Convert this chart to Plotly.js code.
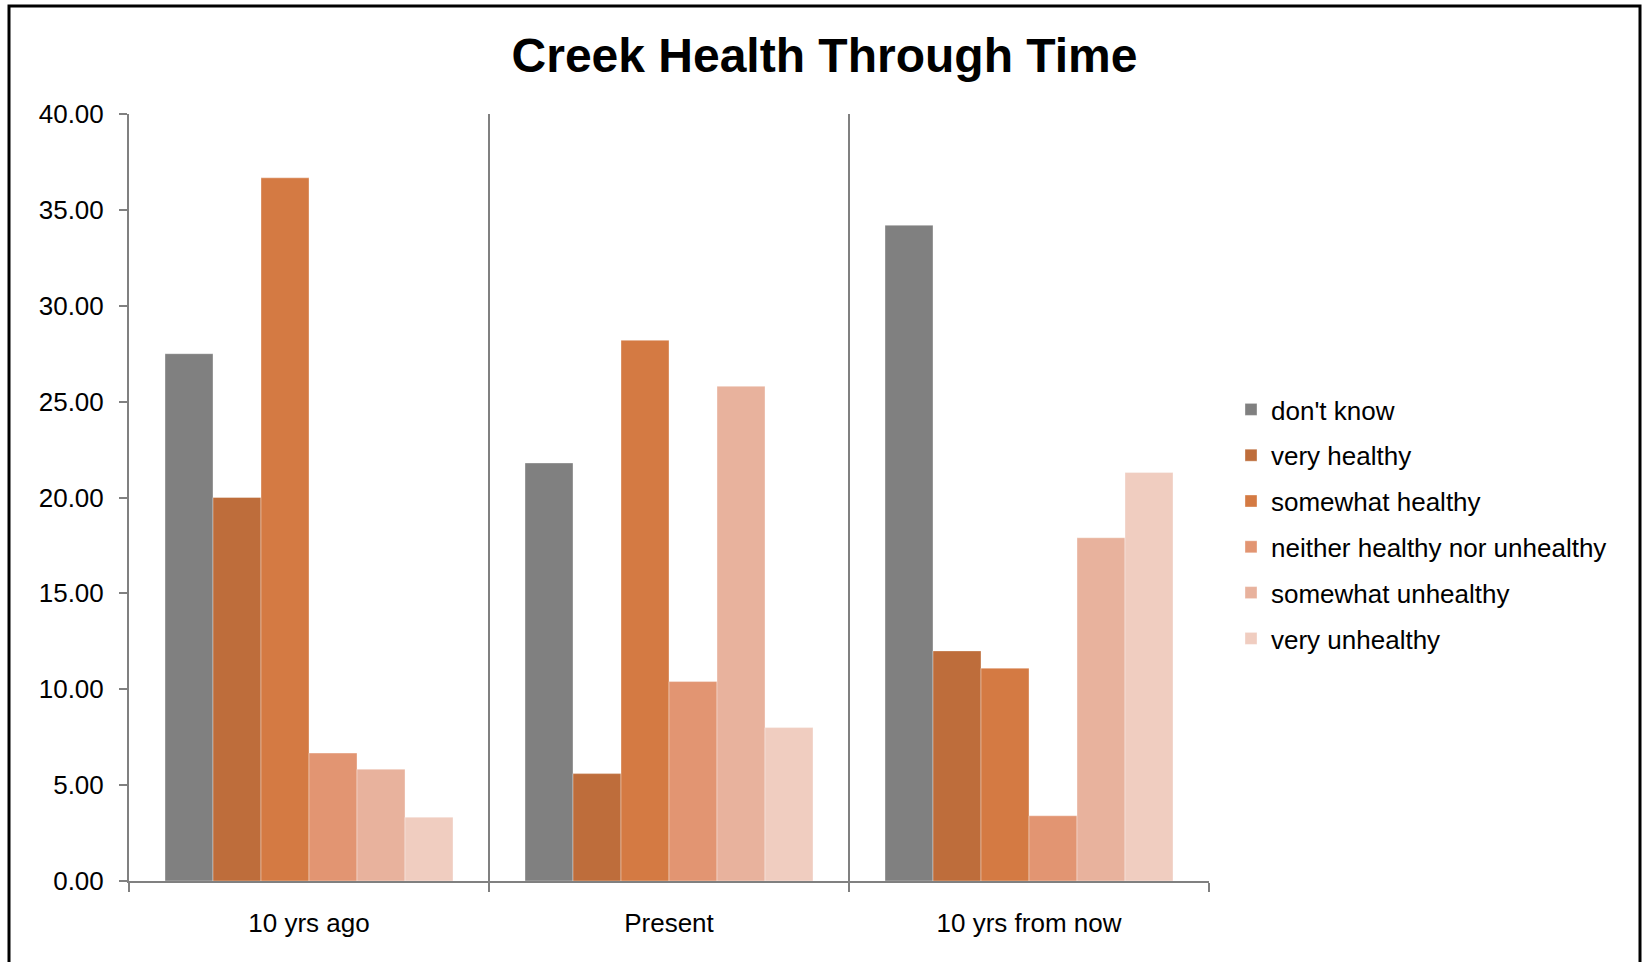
<!DOCTYPE html>
<html>
<head>
<meta charset="utf-8">
<script src="https://cdn.plot.ly/plotly-3.0.1.min.js"></script>
<style>
html,body{margin:0;padding:0;background:#fff;}
#chart{width:1649px;height:962px;}
</style>
</head>
<body>
<div id="chart"></div>
<script>
const categories = ["10 yrs ago", "Present", "10 yrs from now"];
const seriesNames = ["don't know", "very healthy", "somewhat healthy", "neither healthy nor unhealthy", "somewhat unhealthy", "very unhealthy"];
const dontKnow = [27.50, 21.80, 34.20];
const veryHealthy = [20.00, 5.60, 12.00];
const somewhatHealthy = [36.67, 28.20, 11.10];
const neither = [6.67, 10.40, 3.40];
const somewhatUnhealthy = [5.83, 25.80, 17.90];
const veryUnhealthy = [3.33, 8.00, 21.30];
const colors = ["#808080", "#BE6D3B", "#D47A43", "#E29572", "#E8B29D", "#F0CDC0"];
const yTickVals = [0, 5, 10, 15, 20, 25, 30, 35, 40];

const seriesValues = [dontKnow, veryHealthy, somewhatHealthy, neither, somewhatUnhealthy, veryUnhealthy];
const FONT = "Liberation Sans, Arial, sans-serif";

const traces = seriesValues.map((vals, i) => ({
  type: "bar",
  name: seriesNames[i],
  x: categories,
  y: vals,
  legendgroup: "g" + i,
  marker: {color: colors[i], line: {color: "rgba(255,255,255,0.35)", width: 1}},
  hoverinfo: "x+y+name"
}));

const L = 129, R = 440, T = 114, B = 81;
const PW = 1649 - L - R, PH = 962 - T - B;
function px(x){ return (x - L) / PW; }
function py(y){ return (962 - B - y) / PH; }

const layout = {
  width: 1649, height: 962,
  margin: {l: L, r: R, t: T, b: B, pad: 0},
  paper_bgcolor: "#ffffff",
  plot_bgcolor: "#ffffff",
  font: {family: FONT, size: 26, color: "#000000"},
  title: {
    text: "<b>Creek Health Through Time</b>",
    font: {family: FONT, size: 48, color: "#000000"},
    x: 0.5, xref: "container", xanchor: "center",
    y: 1 - 55/962, yref: "container", yanchor: "middle"
  },
  barmode: "group",
  bargap: 0.2,
  bargroupgap: 0,
  showlegend: true,
  legend: {
    x: px(1231), xanchor: "left",
    y: py(386), yanchor: "top",
    font: {family: FONT, size: 26, color: "#000000"},
    tracegroupgap: 9,
    bgcolor: "rgba(0,0,0,0)",
    borderwidth: 0
  },
  xaxis: {
    type: "category",
    showline: true, linecolor: "#808080", linewidth: 2,
    ticks: "outside", ticklen: 9, tickwidth: 2, tickcolor: "#808080",
    tickson: "boundaries",
    showgrid: true, gridcolor: "#808080", gridwidth: 1.5,
    zeroline: false,
    ticklabelstandoff: 18,
    tickfont: {family: FONT, size: 26, color: "#000000"},
    fixedrange: true
  },
  yaxis: {
    range: [0, 40],
    tickvals: yTickVals,
    tickformat: ".2f",
    showline: true, linecolor: "#808080", linewidth: 2,
    ticks: "outside", ticklen: 8, tickwidth: 2, tickcolor: "#808080",
    showgrid: false, zeroline: false,
    ticklabelstandoff: 10,
    tickfont: {family: FONT, size: 26, color: "#000000"},
    fixedrange: true
  },
  shapes: [{
    type: "rect", xref: "paper", yref: "paper",
    x0: px(9), x1: px(1640), y0: py(980), y1: py(6),
    line: {color: "#000000", width: 3},
    fillcolor: "rgba(0,0,0,0)",
    layer: "above"
  }]
};

Plotly.newPlot("chart", traces, layout, {displayModeBar: false, staticPlot: true});
</script>
</body>
</html>
